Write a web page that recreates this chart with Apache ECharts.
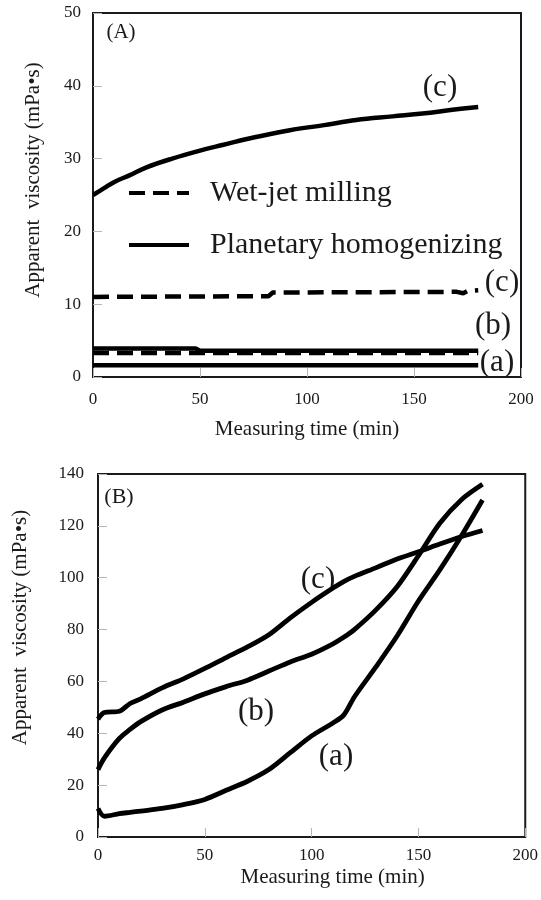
<!DOCTYPE html>
<html><head><meta charset="utf-8">
<script src="https://cdn.jsdelivr.net/npm/echarts@6/dist/echarts.min.js"></script>
<style>html,body{margin:0;padding:0;background:#fff}#c{width:541px;height:900px}</style>
</head><body><div id="c"></div>
<script>
// ---------- Panel (A) data ----------
const timeA_planC = [0,5,10,17,25,37,50,61,75,92,108,123,140,154,168,180];
const viscA_planC = [25.0,25.9,26.8,27.7,28.8,30.0,31.1,31.9,32.9,33.9,34.6,35.3,35.8,36.2,36.7,37.1];
const timeA_wetC = [0,82,84,170,173,175,180];
const viscA_wetC = [11.0,11.1,11.6,11.7,11.5,11.8,11.9];
const timeA_planB = [0,48,50,180];
const viscA_planB = [3.9,3.9,3.6,3.6];
const timeA_wetB = [0,180];
const viscA_wetB = [3.3,3.3];
const timeA_planA = [0,180];
const viscA_planA = [1.6,1.6];

// ---------- Panel (B) data ----------
const timeB = [0,3,10,15,20,30,40,50,60,70,80,90,100,110,115,120,130,140,150,160,170,180];
const viscB_a = [11,8,9,9.5,10,11,12.5,14.5,18,21.5,26,32.5,39,44,47,54,65.5,77.5,91,103,116,130];
const viscB_b = [26,30.5,38,41.5,44.5,49,52,55.2,58,60.5,64,67.5,70.5,74.5,77,80,87.5,96.5,108.5,121,130,136];
const viscB_c = [45.5,48,48.5,51.5,53.3,57.5,61,65,69.2,73.3,78,84.5,90.5,96,98.5,100.5,103.8,107.2,110,113,115.8,118.2];

// ---------- text ----------
const legendNames = ['Wet-jet milling', 'Planetary homogenizing'];
const xTitle = 'Measuring time (min)';
const yTitle = 'Apparent  viscosity (mPa\u2022s)';
const panelLabels = ['(A)', '(B)'];
const curveLabels = ['(a)', '(b)', '(c)'];

const FONT = '"Liberation Serif", "Times New Roman", serif';
const INK = '#1a1a1a';
const DASH = [16, 8];
const pts = (xs, ys) => xs.map((x, i) => [x, ys[i]]);

function xAxisFor(g, margin, nameGap, namePad) {
  return {
    gridIndex: g, type: 'value', min: 0, max: 200, interval: 50,
    axisLine: { show: false },
    axisTick: { inside: true, length: 9, lineStyle: { color: '#b5b5b5', width: 1 } },
    splitLine: { show: false },
    axisLabel: { fontFamily: FONT, fontSize: 17, color: INK, margin: margin },
    name: xTitle, nameLocation: 'middle', nameGap: nameGap,
    nameTextStyle: { fontFamily: FONT, fontSize: 21, color: INK, padding: namePad }
  };
}
function yAxisFor(g, max, interval, margin, nameGap, namePad) {
  return {
    gridIndex: g, type: 'value', min: 0, max: max, interval: interval,
    axisLine: { show: false },
    axisTick: { inside: true, length: 9, lineStyle: { color: '#b5b5b5', width: 1 } },
    splitLine: { show: false },
    axisLabel: { fontFamily: FONT, fontSize: 17, color: INK, margin: margin },
    name: yTitle, nameLocation: 'middle', nameGap: nameGap,
    nameTextStyle: { fontFamily: FONT, fontSize: 21, color: INK, padding: namePad }
  };
}
function lineSeries(name, g, data, dashed, width, smooth) {
  return {
    name: name, type: 'line', xAxisIndex: g, yAxisIndex: g,
    data: data, symbol: 'none', smooth: smooth || false,
    color: '#000',
    itemStyle: { color: '#000' },
    lineStyle: { color: '#000', width: width, type: dashed ? DASH : 'solid', cap: 'butt' },
    emphasis: { disabled: true }, animation: false
  };
}
function label(text, x, y, size) {
  return { type: 'text', x: x, y: y, style: { text: text, font: size + 'px ' + FONT, fill: INK, textAlign: 'center', textVerticalAlign: 'middle' } };
}

const chart = echarts.init(document.getElementById('c'), null, { renderer: 'canvas' });
chart.setOption({
  animation: false,
  backgroundColor: '#fff',
  grid: [
    { left: 93, top: 13, width: 428, height: 364, show: true, borderColor: INK, borderWidth: 2, backgroundColor: 'transparent' },
    { left: 98, top: 474, width: 430, height: 363, show: true, borderColor: INK, borderWidth: 2, backgroundColor: 'transparent' }
  ],
  xAxis: [xAxisFor(0, 14, 42, [0, 0, 0, 0]), xAxisFor(1, 10, 30, [0, 0, 0, 42])],
  yAxis: [yAxisFor(0, 50, 10, 12, 49, [0, 0, 0, 30]), yAxisFor(1, 140, 20, 14, 67, [0, 0, 0, 56])],
  legend: {
    orient: 'vertical', left: 127, top: 178, padding: 0,
    itemWidth: 60, itemHeight: 14, itemGap: 22,
    selectedMode: false,
    data: legendNames,
    itemStyle: { opacity: 0 },
    lineStyle: { width: 4, color: '#000' },
    textStyle: { fontFamily: FONT, fontSize: 30, color: INK, padding: [0, 0, 0, 16] }
  },
  series: [
    lineSeries(legendNames[0], 0, pts(timeA_wetC, viscA_wetC), true, 4.5),
    lineSeries(legendNames[1], 0, pts(timeA_planC, viscA_planC), false, 4.5, 0.4),
    lineSeries(legendNames[1], 0, pts(timeA_planB, viscA_planB), false, 4.5),
    lineSeries(legendNames[0], 0, pts(timeA_wetB, viscA_wetB), true, 4.5),
    lineSeries(legendNames[1], 0, pts(timeA_planA, viscA_planA), false, 4.5),
    lineSeries('B (a)', 1, pts(timeB, viscB_a), false, 4.8, 0.3),
    lineSeries('B (b)', 1, pts(timeB, viscB_b), false, 4.8, 0.3),
    lineSeries('B (c)', 1, pts(timeB, viscB_c), false, 4.8, 0.3)
  ],
  graphic: [
    label(panelLabels[0], 121, 32, 21),
    label(curveLabels[2], 440, 88, 31),
    label(curveLabels[2], 502, 283, 31),
    label(curveLabels[1], 493, 326, 31),
    label(curveLabels[0], 497, 363, 31),
    label(panelLabels[1], 119, 497, 22),
    label(curveLabels[2], 318, 580, 31),
    label(curveLabels[1], 256, 712, 31),
    label(curveLabels[0], 336, 757, 31)
  ]
});
</script></body></html>
